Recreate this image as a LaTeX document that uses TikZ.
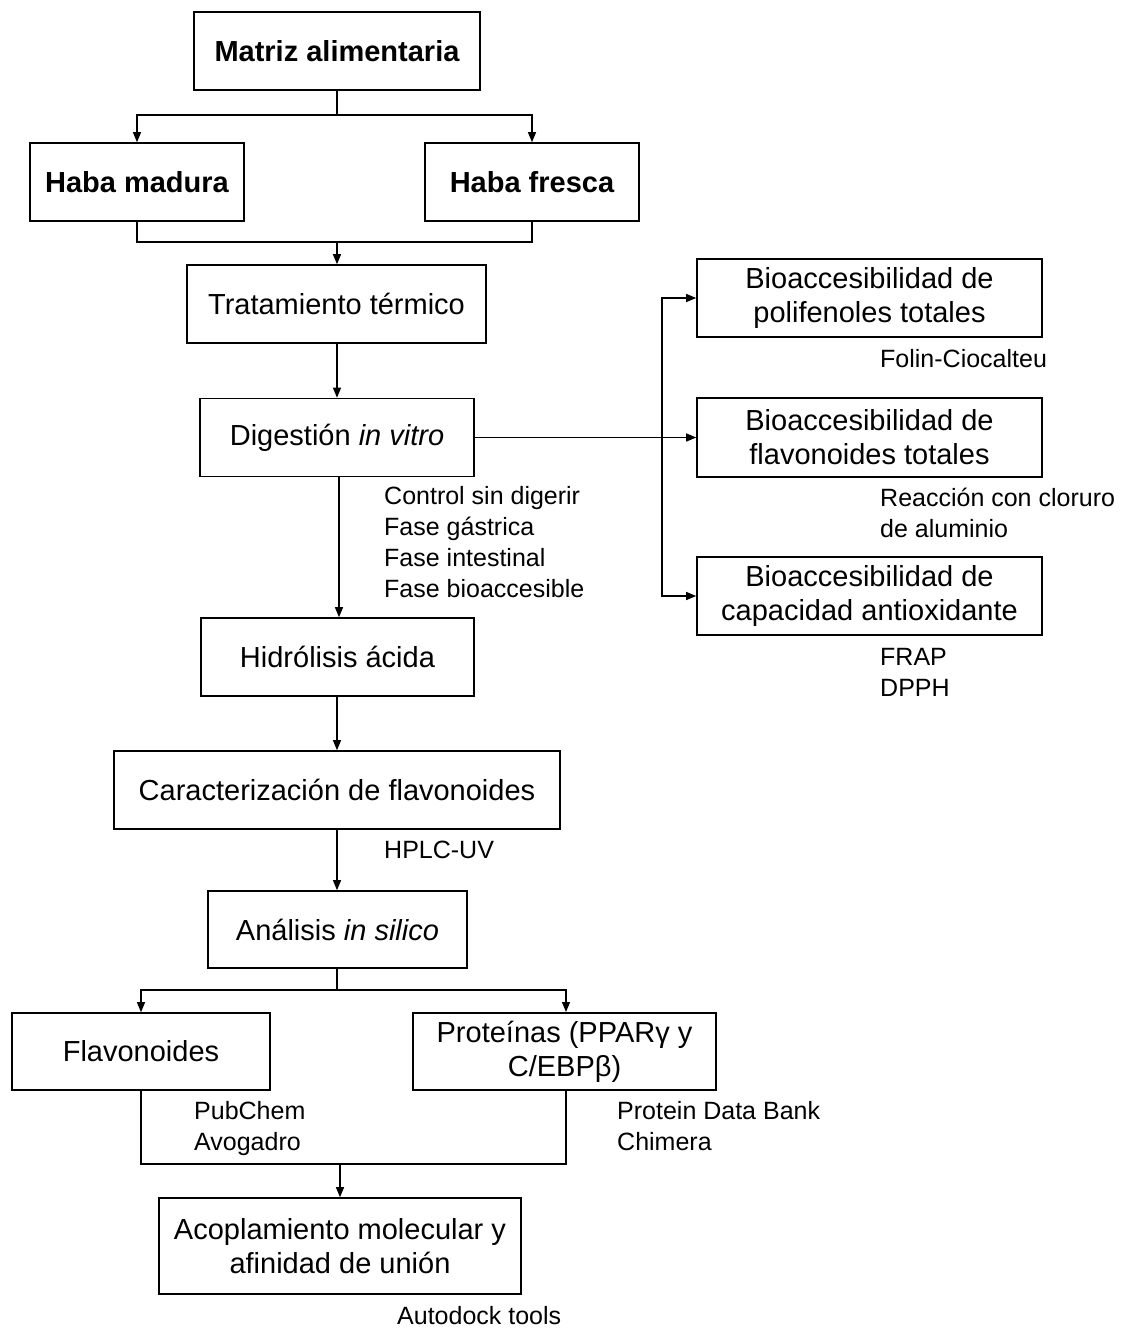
\documentclass[tikz,border=0pt]{standalone}
\usepackage{fontspec}
\setmainfont{Liberation Sans}
\usetikzlibrary{arrows.meta}
\begin{document}
\begin{tikzpicture}[x=1pt,y=-1pt,
  box/.style={draw,line width=1.6pt,inner sep=0pt,align=center,font=\fontsize{29}{34}\selectfont},
  lbl/.style={anchor=base west,inner sep=0pt,align=left,font=\fontsize{25}{31}\selectfont},
  conn/.style={line width=1.3pt},
  arr/.style={line width=1.3pt,-{Triangle[length=10pt,width=8pt]}}]
\useasboundingbox (0,0) rectangle (1124,1328);
% boxes
\node[box,minimum width=286,minimum height=78,font=\fontsize{29}{34}\selectfont\bfseries] (matriz) at (337,51) {Matriz alimentaria};
\node[box,minimum width=214,minimum height=78,font=\fontsize{29}{34}\selectfont\bfseries] (madura) at (137,182) {Haba madura};
\node[box,minimum width=214,minimum height=78,font=\fontsize{29}{34}\selectfont\bfseries] (fresca) at (532,182) {Haba fresca};
\node[box,minimum width=299,minimum height=78] (trat) at (336.5,304) {Tratamiento térmico};
\node[box,minimum width=274,minimum height=78] (dig) at (337,437.5) {Digestión \textit{in vitro}};
\node[box,minimum width=273,minimum height=78] (hidro) at (337.5,657) {Hidrólisis ácida};
\node[box,minimum width=446,minimum height=78] (carac) at (337,790) {Caracterización de flavonoides};
\node[box,minimum width=259,minimum height=77] (anal) at (337.5,929.5) {Análisis \textit{in silico}};
\node[box,minimum width=258,minimum height=77] (flav) at (141,1051.5) {Flavonoides};
\node[box,minimum width=303,minimum height=77] (prot) at (564.5,1051.5) {Proteínas (PPARγ y\\C/EBPβ)};
\node[box,minimum width=362,minimum height=96] (acop) at (340,1246) {Acoplamiento molecular y\\afinidad de unión};
\node[box,minimum width=345,minimum height=78] (poli) at (869.5,298) {Bioaccesibilidad de\\polifenoles totales};
\node[box,minimum width=345,minimum height=79] (flavt) at (869.5,437.5) {Bioaccesibilidad de\\flavonoides totales};
\node[box,minimum width=345,minimum height=78] (capa) at (869.5,596) {Bioaccesibilidad de\\capacidad antioxidante};
% labels (base = baseline of last line)
\node[lbl] (lfolin) at (880,367) {Folin-Ciocalteu};
\node[lbl] (lalum) at (880,537) {Reacción con cloruro\\de aluminio};
\node[lbl] (lfrap) at (880,696) {FRAP\\DPPH};
\node[lbl] (ldig) at (384,597) {Control sin digerir\\Fase gástrica\\Fase intestinal\\Fase bioaccesible};
\node[lbl] (lhplc) at (384,858) {HPLC-UV};
\node[lbl] (lpub) at (194,1150) {PubChem\\Avogadro};
\node[lbl] (lpdb) at (617,1150) {Protein Data Bank\\Chimera};
\node[lbl] (lauto) at (397,1324) {Autodock tools};
% connectors
\coordinate (j1) at (337,115);
\draw[conn] (matriz.south) -- (j1);
\draw[arr] (j1) -| (madura.north);
\draw[arr] (j1) -| (fresca.north);
\coordinate (j2) at (337,242);
\draw[conn] (madura.south) |- (j2) -| (fresca.south);
\draw[arr] (j2) -- (j2 |- trat.north);
\draw[arr] (trat.south -| j2) -- (j2 |- dig.north);
\draw[arr] (dig.east) -- (flavt.west);
\coordinate (v) at (662,437.5);
\draw[arr] (v) |- (poli.west);
\draw[arr] (v) |- (capa.west);
\coordinate (jd) at (339,476);
\draw[arr] (jd) -- (jd |- hidro.north);
\draw[arr] (hidro.south -| j2) -- (j2 |- carac.north);
\draw[arr] (carac.south -| j2) -- (j2 |- anal.north);
\coordinate (j3) at (337,990);
\draw[conn] (anal.south -| j3) -- (j3);
\draw[arr] (j3) -| (flav.north);
\draw[arr] (j3) -| (566,1012);
\coordinate (j4) at (340,1164);
\draw[conn] (flav.south) |- (j4) -| (566,1089);
\draw[arr] (j4) -- (j4 |- acop.north);
\end{tikzpicture}
\end{document}
